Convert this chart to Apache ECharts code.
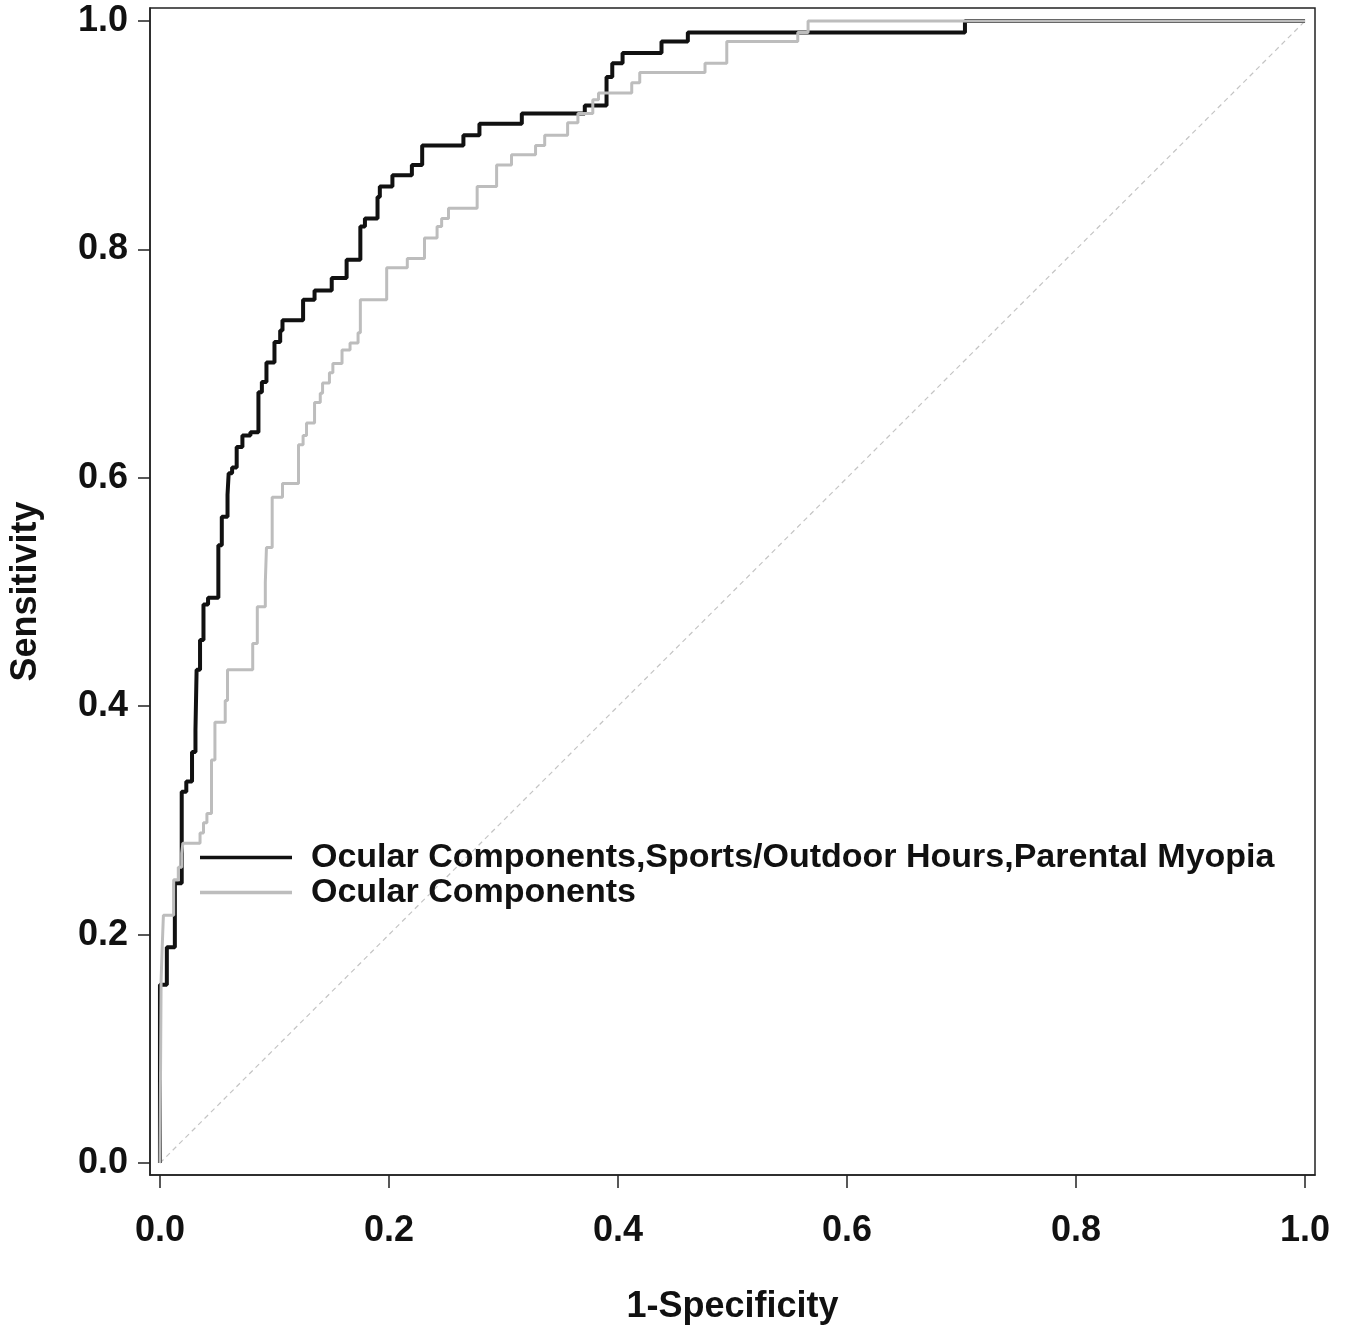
<!DOCTYPE html>
<html>
<head>
<meta charset="utf-8">
<script src="https://cdn.jsdelivr.net/npm/echarts@6/dist/echarts.min.js"></script>
<style>
  html, body { margin: 0; padding: 0; background: #fff; }
  #chart { width: 1345px; height: 1332px; }
</style>
</head>
<body>
<div id="chart"></div>
<script>
// tick labels on both axes
var tickValues = [0, 0.2, 0.4, 0.6, 0.8, 1.0];

// ROC corners as [1-specificity, sensitivity]
var fullModel = [
  [0, 0], [0, 0.156], [0.006, 0.189], [0.013, 0.245], [0.019, 0.325], [0.023, 0.334],
  [0.028, 0.36], [0.031, 0.379], [0.032, 0.432], [0.035, 0.458], [0.038, 0.489],
  [0.042, 0.495], [0.051, 0.541], [0.054, 0.566], [0.059, 0.585], [0.06, 0.604],
  [0.063, 0.609], [0.067, 0.627], [0.072, 0.637], [0.079, 0.64], [0.086, 0.675],
  [0.089, 0.684], [0.093, 0.701], [0.1, 0.719], [0.105, 0.729], [0.107, 0.738],
  [0.125, 0.756], [0.135, 0.764], [0.15, 0.775], [0.163, 0.791], [0.175, 0.82],
  [0.179, 0.827], [0.19, 0.846], [0.192, 0.855], [0.203, 0.865], [0.22, 0.874],
  [0.229, 0.891], [0.265, 0.9], [0.279, 0.91], [0.316, 0.919], [0.371, 0.926],
  [0.39, 0.951], [0.395, 0.963], [0.404, 0.972], [0.438, 0.982], [0.461, 0.99],
  [0.703, 1.0], [1.0, 1.0]
];

var ocularOnly = [
  [0, 0], [0.001, 0.16], [0.002, 0.19], [0.003, 0.217], [0.012, 0.248], [0.016, 0.259],
  [0.019, 0.271], [0.02, 0.28], [0.035, 0.289], [0.038, 0.298], [0.041, 0.306],
  [0.045, 0.353], [0.048, 0.386], [0.057, 0.405], [0.059, 0.432], [0.081, 0.455],
  [0.085, 0.487], [0.092, 0.508], [0.093, 0.539], [0.098, 0.583], [0.107, 0.595],
  [0.121, 0.629], [0.125, 0.637], [0.128, 0.648], [0.135, 0.666], [0.14, 0.674],
  [0.142, 0.683], [0.148, 0.692], [0.151, 0.7], [0.159, 0.712], [0.166, 0.718],
  [0.173, 0.727], [0.175, 0.756], [0.198, 0.784], [0.216, 0.792], [0.231, 0.81],
  [0.242, 0.82], [0.246, 0.827], [0.252, 0.836], [0.277, 0.855], [0.294, 0.874],
  [0.307, 0.883], [0.328, 0.891], [0.336, 0.9], [0.356, 0.911], [0.365, 0.919],
  [0.378, 0.931], [0.383, 0.937], [0.412, 0.946], [0.419, 0.955], [0.476, 0.963],
  [0.495, 0.982], [0.557, 0.99], [0.566, 1.0], [1.0, 1.0]
];

var chanceLine = [[0, 0], [1, 1]];

var seriesNames = [
  'Ocular Components,Sports/Outdoor Hours,Parental Myopia',
  'Ocular Components'
];

var chart = echarts.init(document.getElementById('chart'));

var labelFont = {
  color: '#111',
  fontFamily: 'Liberation Sans',
  fontWeight: 'bold',
  fontSize: 36
};

var option = {
  backgroundColor: '#fff',
  animation: false,
  grid: {
    left: 150,
    right: 30,
    top: 8,
    bottom: 157,
    show: true,
    borderColor: '#222',
    borderWidth: 1.5
  },
  legend: {
    data: seriesNames,
    orient: 'vertical',
    left: 195,
    top: 835,
    icon: 'rect',
    itemWidth: 92,
    itemHeight: 3.5,
    itemGap: 0,
    textStyle: {
      color: '#111',
      fontFamily: 'Liberation Sans',
      fontWeight: 'bold',
      fontSize: 34,
      lineHeight: 31,
      padding: [4, 0, 0, 14]
    }
  },
  xAxis: {
    type: 'value',
    min: -0.0087,
    max: 1.0087,
    name: '1-Specificity',
    nameLocation: 'middle',
    nameGap: 114,
    nameTextStyle: labelFont,
    axisLine: { show: true, onZero: false, lineStyle: { color: '#222', width: 1.5 } },
    axisTick: { show: true, length: 13, customValues: tickValues, lineStyle: { color: '#222', width: 1.5 } },
    axisLabel: Object.assign({
      customValues: tickValues,
      margin: 38,
      formatter: function (v) { return v.toFixed(1); }
    }, labelFont),
    splitLine: { show: false }
  },
  yAxis: {
    type: 'value',
    min: -0.0105,
    max: 1.0114,
    name: 'Sensitivity',
    nameLocation: 'middle',
    nameGap: 106,
    nameRotate: 90,
    nameTextStyle: labelFont,
    axisLine: { show: true, onZero: false, lineStyle: { color: '#222', width: 1.5 } },
    axisTick: { show: true, length: 12, customValues: tickValues, lineStyle: { color: '#222', width: 1.5 } },
    axisLabel: Object.assign({
      customValues: tickValues,
      margin: 22,
      formatter: function (v) { return v.toFixed(1); }
    }, labelFont),
    splitLine: { show: false }
  },
  series: [
    {
      name: 'chance',
      type: 'line',
      data: chanceLine,
      symbol: 'none',
      silent: true,
      lineStyle: { color: '#c4c4c4', width: 1.2, type: [5, 4] }
    },
    {
      name: seriesNames[0],
      type: 'line',
      step: 'end',
      data: fullModel,
      symbol: 'none',
      color: '#111',
      lineStyle: { color: '#111', width: 4 }
    },
    {
      name: seriesNames[1],
      type: 'line',
      step: 'end',
      data: ocularOnly,
      symbol: 'none',
      color: '#bdbdbd',
      lineStyle: { color: '#bdbdbd', width: 3 }
    }
  ]
};

chart.setOption(option);
</script>
</body>
</html>
